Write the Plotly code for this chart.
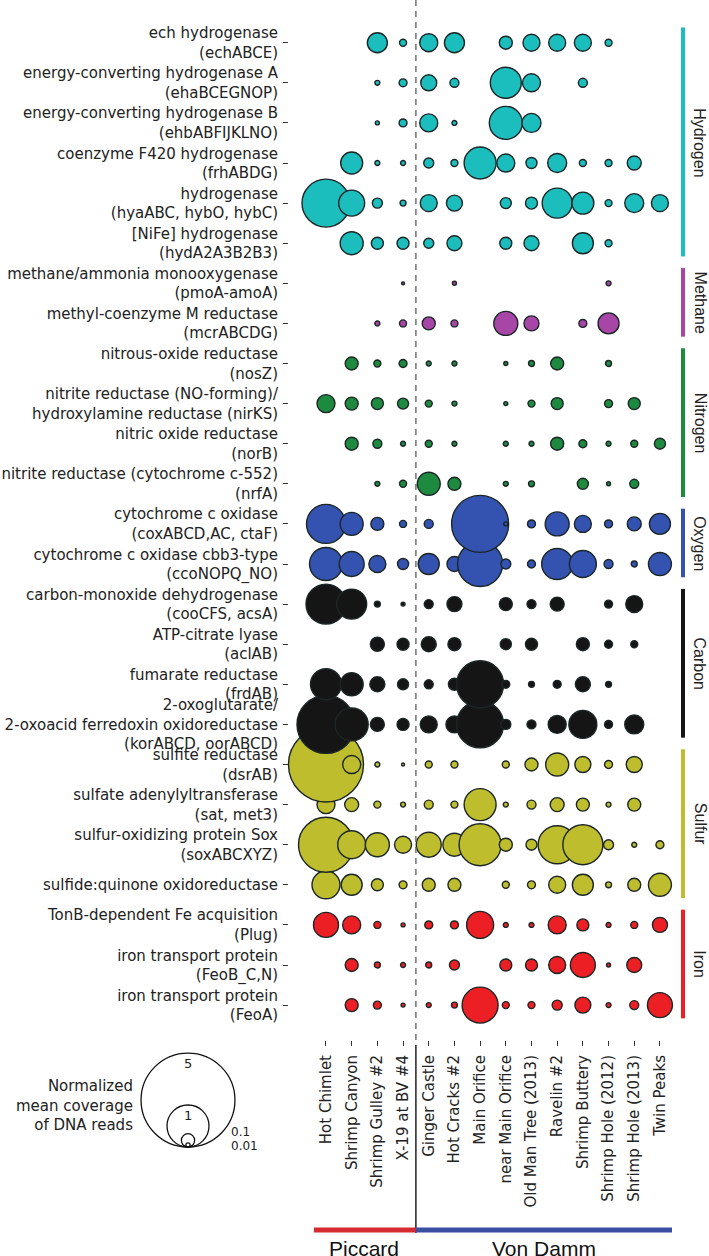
import plotly.graph_objects as go

sites = ["Hot Chimlet", "Shrimp Canyon", "Shrimp Gulley #2", "X-19 at BV #4",
         "Ginger Castle", "Hot Cracks #2", "Main Orifice", "near Main Orifice",
         "Old Man Tree (2013)", "Ravelin #2", "Shrimp Buttery", "Shrimp Hole (2012)",
         "Shrimp Hole (2013)", "Twin Peaks"]

genes = [
    "ech hydrogenase<br>(echABCE)",
    "energy-converting hydrogenase A<br>(ehaBCEGNOP)",
    "energy-converting hydrogenase B<br>(ehbABFIJKLNO)",
    "coenzyme F420 hydrogenase<br>(frhABDG)",
    "hydrogenase<br>(hyaABC, hybO, hybC)",
    "[NiFe] hydrogenase<br>(hydA2A3B2B3)",
    "methane/ammonia monooxygenase<br>(pmoA-amoA)",
    "methyl-coenzyme M reductase<br>(mcrABCDG)",
    "nitrous-oxide reductase<br>(nosZ)",
    "nitrite reductase (NO-forming)/<br>hydroxylamine reductase (nirKS)",
    "nitric oxide reductase<br>(norB)",
    "nitrite reductase (cytochrome c-552)<br>(nrfA)",
    "cytochrome c oxidase<br>(coxABCD,AC, ctaF)",
    "cytochrome c oxidase cbb3-type<br>(ccoNOPQ_NO)",
    "carbon-monoxide dehydrogenase<br>(cooCFS, acsA)",
    "ATP-citrate lyase<br>(aclAB)",
    "fumarate reductase<br>(frdAB)",
    "2-oxoglutarate/<br>2-oxoacid ferredoxin oxidoreductase<br>(korABCD, oorABCD)",
    "sulfite reductase<br>(dsrAB)",
    "sulfate adenylyltransferase<br>(sat, met3)",
    "sulfur-oxidizing protein Sox<br>(soxABCXYZ)",
    "sulfide:quinone oxidoreductase",
    "TonB-dependent Fe acquisition<br>(Plug)",
    "iron transport protein<br>(FeoB_C,N)",
    "iron transport protein<br>(FeoA)",
]

# normalized mean coverage of DNA reads (0 = not detected)
coverage = [
    [0, 0, 0.227, 0.028, 0.184, 0.227, 0, 0.096, 0.164, 0.164, 0.164, 0.028, 0, 0],
    [0, 0, 0.014, 0.036, 0.145, 0.046, 0, 0.545, 0.184, 0, 0.046, 0, 0, 0],
    [0, 0, 0.009, 0.036, 0.184, 0.014, 0, 0.617, 0.205, 0, 0, 0, 0, 0],
    [0, 0.274, 0.014, 0.014, 0.057, 0.028, 0.58, 0.184, 0.069, 0.205, 0.028, 0.028, 0.111, 0],
    [1.306, 0.383, 0.057, 0.02, 0.164, 0.145, 0, 0.069, 0.082, 0.51, 0.274, 0.028, 0.205, 0.164],
    [0, 0.30, 0.082, 0.082, 0.057, 0.128, 0, 0.082, 0.128, 0, 0.25, 0.028, 0, 0],
    [0, 0, 0, 0.005, 0, 0.009, 0, 0, 0, 0, 0, 0.014, 0, 0],
    [0, 0, 0.014, 0.028, 0.096, 0.028, 0, 0.327, 0.128, 0, 0.036, 0.25, 0, 0],
    [0, 0.096, 0.028, 0.036, 0.014, 0.014, 0, 0.009, 0.02, 0.096, 0, 0.02, 0, 0],
    [0.184, 0.096, 0.082, 0.069, 0.028, 0.014, 0, 0.009, 0.028, 0.082, 0, 0.036, 0.082, 0],
    [0, 0.096, 0.046, 0.014, 0.028, 0.014, 0, 0.014, 0.014, 0.096, 0.036, 0.014, 0.028, 0.069],
    [0, 0, 0.014, 0.028, 0.30, 0.096, 0, 0.014, 0.02, 0, 0.069, 0.009, 0.046, 0],
    [0.862, 0.30, 0.096, 0.028, 0.046, 0, 1.842, 0.009, 0.036, 0.327, 0.164, 0.036, 0.111, 0.25],
    [0.617, 0.354, 0.164, 0.069, 0.25, 0.128, 1.148, 0.057, 0.036, 0.545, 0.413, 0.046, 0.02, 0.30],
    [0.907, 0.51, 0.02, 0.009, 0.046, 0.128, 0, 0.096, 0.046, 0.111, 0, 0.036, 0.164, 0],
    [0, 0, 0.111, 0.082, 0.128, 0.096, 0, 0.069, 0.082, 0, 0.096, 0.036, 0.028, 0],
    [0.545, 0.30, 0.128, 0.069, 0.046, 0.082, 1.252, 0.036, 0.02, 0.036, 0.128, 0.02, 0, 0],
    [1.907, 0.617, 0.111, 0.082, 0.164, 0.164, 1.252, 0.057, 0.046, 0.184, 0.444, 0.036, 0.205, 0],
    [3.189, 0.184, 0.014, 0.005, 0.028, 0.028, 0, 0.028, 0.096, 0.30, 0.145, 0.036, 0.145, 0],
    [0.184, 0.111, 0.028, 0.014, 0.046, 0.028, 0.58, 0.014, 0.046, 0.111, 0.096, 0.014, 0.096, 0],
    [1.715, 0.444, 0.327, 0.164, 0.354, 0.30, 1.0, 0.096, 0.069, 0.819, 0.907, 0.057, 0.014, 0.036],
    [0.444, 0.25, 0.082, 0.036, 0.096, 0.096, 0, 0.028, 0.036, 0.164, 0.25, 0.02, 0.096, 0.30],
    [0.354, 0.184, 0.028, 0.009, 0.036, 0.036, 0.413, 0.014, 0.014, 0.184, 0.082, 0.014, 0.028, 0.128],
    [0, 0.096, 0.02, 0.014, 0.02, 0.057, 0, 0.082, 0.082, 0.164, 0.354, 0.009, 0.128, 0],
    [0, 0.096, 0.036, 0.009, 0.014, 0.02, 0.735, 0.028, 0.028, 0.057, 0.145, 0.014, 0.046, 0.354],
]

groups = ["Hydrogen", "Methane", "Nitrogen", "Oxygen", "Carbon", "Sulfur", "Iron"]
group_rows = [(0, 5), (6, 7), (8, 11), (12, 13), (14, 17), (18, 21), (22, 24)]
group_colors = ["#1bbdbd", "#a846a8", "#1d8a3f", "#3452b0", "#151515", "#bdbd2d", "#ec2024"]

regions = ["Piccard", "Von Damm"]
region_cols = [(0, 3), (4, 13)]
region_colors = ["#d42a30", "#3c4ea2"]

legend_values = [5, 1, 0.1, 0.01]
legend_labels = ["5", "1", "0.1", "0.01"]

D1 = 42.0  # pixel diameter of a bubble with value 1

# ---- layout geometry (pixels) ----
W, H = 709, 1256
L, R, T, B = 289, 672, 0, 1040
PW, PH = R - L, B - T


def px_x(px):
    return (px - L) / PW


def px_y(py):
    return (B - py) / PH


row_color = {}
for gi, (a, b) in enumerate(group_rows):
    for r in range(a, b + 1):
        row_color[r] = group_colors[gi]

xs, ys, ss, cs = [], [], [], []
for r in reversed(range(len(genes))):
    for c in range(len(sites)):
        v = coverage[r][c]
        if v > 0:
            xs.append(c)
            ys.append(r)
            ss.append(v)
            cs.append(row_color[r])

fig = go.Figure()
fig.add_trace(go.Scatter(
    x=xs, y=ys, mode="markers", cliponaxis=False, hoverinfo="skip",
    marker=dict(size=ss, sizemode="area", sizeref=2.0 / D1 ** 2, sizemin=0,
                color=cs, opacity=1, line=dict(color="#1c2626", width=1.4)),
))

font_main = "DejaVu Sans, Bitstream Vera Sans, sans-serif"
font_side = "Liberation Sans, Arial, sans-serif"

shapes = []
annotations = []

# dashed separator in plot
shapes.append(dict(type="line", xref="x", yref="paper", x0=3.5, x1=3.5, y0=0, y1=1,
                   line=dict(color="#666", width=1.4, dash="6px,5px")))
# solid separator among x labels
shapes.append(dict(type="line", xref="x", yref="paper", x0=3.5, x1=3.5,
                   y0=px_y(1045), y1=px_y(1233), line=dict(color="#111", width=1.4)))

# region bars + labels
reg_bounds = [(-0.47, 3.5), (3.5, 13.55)]
for i, reg in enumerate(regions):
    x0, x1 = reg_bounds[i]
    shapes.append(dict(type="line", xref="x", yref="paper", x0=x0, x1=x1,
                       y0=px_y(1230), y1=px_y(1230),
                       line=dict(color=region_colors[i], width=5)))
    annotations.append(dict(xref="x", yref="paper", x=(x0 + x1) / 2 - 0.05, y=px_y(1236),
                            text=reg, showarrow=False, yanchor="top", xanchor="center",
                            borderpad=0,
                            font=dict(family=font_side, size=21, color="#111")))

# group bars + labels
for gi, g in enumerate(groups):
    a, b = group_rows[gi]
    shapes.append(dict(type="line", xref="paper", yref="y", x0=px_x(683), x1=px_x(683),
                       y0=a - 0.38, y1=b + 0.33, line=dict(color=group_colors[gi], width=4)))
    annotations.append(dict(xref="paper", yref="y", x=px_x(700), y=(a + b) / 2 - 0.02,
                            text=g, showarrow=False, textangle=90,
                            xanchor="center", yanchor="middle", borderpad=0,
                            font=dict(family=font_side, size=16, color="#222")))

# size legend: nested circles tangent at bottom
cx, by = 188, 1147
for v, lab in zip(legend_values, legend_labels):
    d = D1 * v ** 0.5
    shapes.append(dict(type="circle", xref="paper", yref="paper",
                       xsizemode="pixel", ysizemode="pixel",
                       xanchor=px_x(cx), yanchor=px_y(by),
                       x0=-d / 2, x1=d / 2, y0=0, y1=d,
                       line=dict(color="#111", width=1.3)))
for v, lab in zip(legend_values[:2], legend_labels[:2]):
    d = D1 * v ** 0.5
    annotations.append(dict(xref="paper", yref="paper", x=px_x(cx), y=px_y(by - d + 2),
                            text=lab, showarrow=False, xanchor="center", yanchor="top",
                            borderpad=0,
                            font=dict(family=font_main, size=13, color="#222")))
annotations.append(dict(xref="paper", yref="paper", x=px_x(229), y=px_y(1132),
                        text=legend_labels[2], showarrow=False, xanchor="left", yanchor="middle",
                        font=dict(family=font_main, size=12, color="#222")))
annotations.append(dict(xref="paper", yref="paper", x=px_x(229), y=px_y(1146),
                        text=legend_labels[3], showarrow=False, xanchor="left", yanchor="middle",
                        font=dict(family=font_main, size=12, color="#222")))
annotations.append(dict(xref="paper", yref="paper", x=px_x(134), y=px_y(1105),
                        text="Normalized<br>mean coverage<br>of DNA reads",
                        showarrow=False, xanchor="right", yanchor="middle", align="right",
                        borderpad=0,
                        font=dict(family=font_main, size=15, color="#222")))

fig.update_layout(
    width=W, height=H,
    margin=dict(l=L, r=W - R, t=T, b=H - B, pad=0),
    paper_bgcolor="white", plot_bgcolor="white",
    showlegend=False,
    shapes=shapes, annotations=annotations,
    xaxis=dict(range=[-1.44, 13.47], tickvals=list(range(len(sites))), ticktext=sites,
               tickangle=-90, ticks="outside", ticklen=5, tickcolor="#333", tickwidth=1,
               showgrid=False, zeroline=False, showline=False, ticklabelstandoff=3,
               tickfont=dict(family=font_main, size=15, color="#222")),
    yaxis=dict(range=[24.87, -1.065], tickvals=list(range(len(genes))), ticktext=genes,
               ticks="outside", ticklen=5, tickcolor="#333", tickwidth=1,
               showgrid=False, zeroline=False, showline=False, ticklabelstandoff=2,
               tickfont=dict(family=font_main, size=15, color="#222")),
)

fig.write_html("out.html", config={"displayModeBar": False},
               post_script="document.body.style.margin='0';document.body.style.padding='0';")
